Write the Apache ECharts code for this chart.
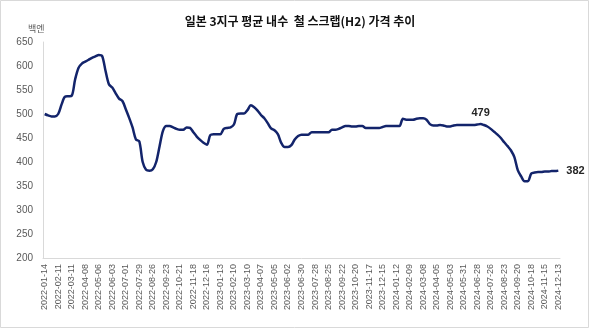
<!DOCTYPE html>
<html><head><meta charset="utf-8">
<script src="https://cdn.jsdelivr.net/npm/echarts@6/dist/echarts.min.js"></script>
<style>html,body{margin:0;padding:0;background:#fff}#c{width:600px;height:329px}</style>
</head><body><div id="c"></div>
<script>
const titleText = '일본 3지구 평균 내수  철 스크랩(H2) 가격 추이';
const unitText = '백엔';
const startDate = '2022-01-14';
const weekCount = 153;
const values = [
  500, 497, 495, 495, 500, 520, 536, 537, 538, 572,
  596, 605, 609, 613, 617, 620, 623, 621, 590, 562,
  555, 543, 532, 527, 510, 492, 472, 447, 443, 400,
  384, 382, 385, 400, 433, 465, 475, 475, 472, 469,
  467, 467, 472, 471, 462, 453, 446, 440, 436, 456,
  458, 458, 458, 469, 471, 472, 478, 500, 501, 501,
  508, 518, 514, 507, 498, 491, 481, 470, 466, 458,
  440, 431, 431, 435, 447, 454, 457, 457, 457, 462,
  462, 462, 462, 462, 462, 467, 467, 469, 472, 475,
  475, 474, 474, 475, 475, 471, 471, 471, 471, 471,
  473, 475, 475, 475, 475, 475, 490, 488, 488, 488,
  490, 491, 491, 488, 479, 476, 476, 477, 476, 474,
  474, 476, 477, 477, 477, 477, 477, 477, 478, 479,
  477, 474, 469, 463, 457, 450, 441, 433, 424, 410,
  383, 370, 360, 360, 376, 378, 379, 379, 380, 380,
  381, 381, 382
];
const yTicks = [200, 250, 300, 350, 400, 450, 500, 550, 600, 650];
const labelTop = 129;   // index labelled above (479)
const labelRight = 152; // index labelled right (382)

// weekly category dates
const categories = [];
{
  const d0 = new Date(startDate + 'T00:00:00Z');
  for (let i = 0; i < weekCount; i++) {
    const d = new Date(d0.getTime() + i * 7 * 86400000);
    categories.push(d.toISOString().slice(0, 10));
  }
}

const seriesData = values.map((v, i) => {
  if (i === labelTop) return {value: v, label: {show: true, position: 'top', distance: 6}};
  if (i === labelRight) return {value: v, label: {show: true, position: 'right', distance: 8}};
  return v;
});

const chart = echarts.init(document.getElementById('c'), null, {renderer: 'canvas'});
chart.setOption({
  animation: false,
  backgroundColor: '#ffffff',
  title: {
    text: titleText, left: 'center', top: 10,
    textStyle: {fontFamily: 'Noto Sans CJK KR', fontSize: 12, fontWeight: 'bold', color: '#111'}
  },
  grid: {left: 43, right: 40, top: 42, bottom: 71, containLabel: false},
  xAxis: {
    type: 'category', data: categories, boundaryGap: true,
    axisLine: {show: true, lineStyle: {color: '#d9d9d9', width: 1}},
    axisTick: {show: false},
    axisLabel: {rotate: 90, interval: 3, margin: 6, fontSize: 9, color: '#595959', fontFamily: 'Liberation Sans'},
    splitLine: {show: false}
  },
  yAxis: {
    type: 'value', min: yTicks[0], max: yTicks[yTicks.length - 1], interval: 50,
    axisLine: {show: true, lineStyle: {color: '#d9d9d9', width: 1}},
    axisTick: {show: false},
    axisLabel: {fontSize: 10, color: '#595959', margin: 10, fontFamily: 'Liberation Sans'},
    splitLine: {show: false}
  },
  graphic: [
    {type: 'rect', shape: {x: 0.5, y: 0.5, width: 588, height: 327}, style: {fill: 'none', stroke: '#d9d9d9', lineWidth: 1}, silent: true},
    {type: 'text', left: 28, top: 24, style: {text: unitText, font: '9px "Noto Sans CJK KR"', fill: '#595959'}}
  ],
  series: [{
    type: 'line', data: seriesData, smooth: 0.3,
    symbol: 'circle', symbolSize: 0, showSymbol: true, showAllSymbol: true,
    itemStyle: {color: '#13246b'},
    lineStyle: {color: '#13246b', width: 2.5},
    label: {show: false, color: '#262626', fontSize: 11, fontWeight: 'bold', fontFamily: 'Liberation Sans'}
  }]
});
</script></body></html>
